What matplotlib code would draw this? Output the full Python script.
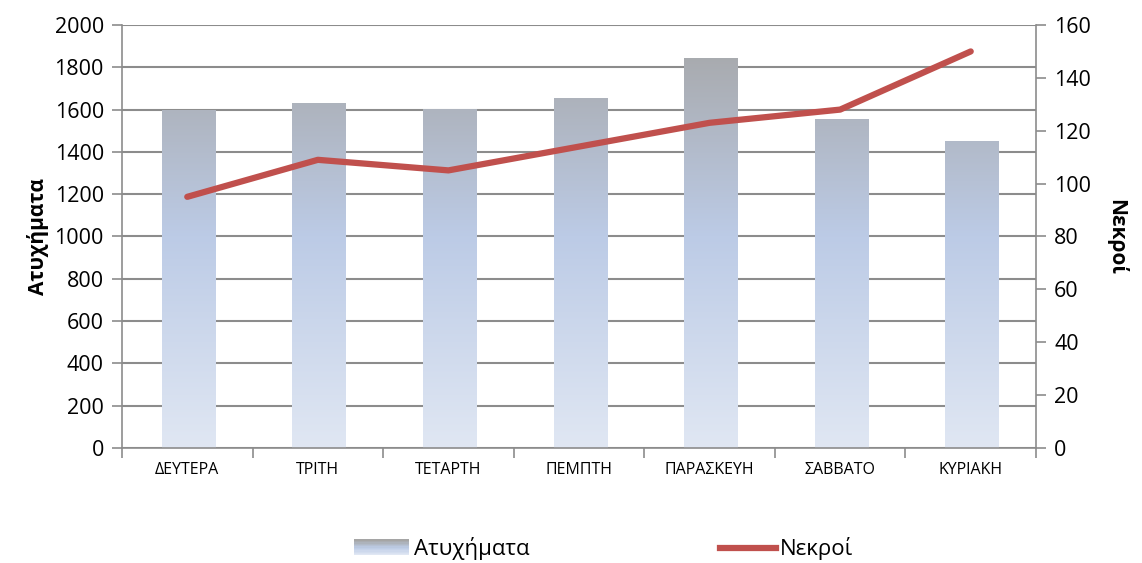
import matplotlib.pyplot as plt
import numpy as np
from matplotlib.colors import LinearSegmentedColormap
from matplotlib.patches import Patch, Rectangle
from matplotlib.lines import Line2D
from matplotlib.legend_handler import HandlerBase

plt.rcParams['font.family'] = ['Open Sans', 'DejaVu Sans']

days = ['ΔΕΥΤΕΡΑ', 'ΤΡΙΤΗ', 'ΤΕΤΑΡΤΗ', 'ΠΕΜΠΤΗ', 'ΠΑΡΑΣΚΕΥΗ', 'ΣΑΒΒΑΤΟ', 'ΚΥΡΙΑΚΗ']
accidents = [1600, 1630, 1605, 1655, 1845, 1555, 1450]
deaths = [95, 109, 105, 114, 123, 128, 150]

grid_col = '#8c8c8c'
line_col = '#c0504d'
grad = LinearSegmentedColormap.from_list('g', ['#e0e7f3', '#bccbe6', '#a5a5a5'])


class GradHandler(HandlerBase):
    def create_artists(self, legend, orig, xd, yd, w, h, fontsize, trans):
        n = 12
        out = []
        for i in range(n):
            r = Rectangle((xd, yd + h * i / n), w, h / n + 0.3, facecolor=grad(i / (n - 1)),
                          edgecolor='none', transform=trans)
            out.append(r)
        return out


fig = plt.figure(figsize=(11.42, 5.63), dpi=100, facecolor='w')
ax = fig.add_axes([0.1068, 0.2043, 0.8004, 0.7513])
x = np.arange(len(days))

bars = ax.bar(x + 0.01, accidents, width=0.41, color='none', zorder=2)
g = np.linspace(0, 1, 256).reshape(-1, 1)
for b in bars:
    im = ax.imshow(g, cmap=grad, origin='lower', aspect='auto', zorder=2,
                   extent=[b.get_x(), b.get_x() + b.get_width(), 0, 2000])
    im.set_clip_path(b)

ax.set_xlim(-0.5, len(days) - 0.5)
ax.set_ylim(0, 2000)
ax.set_yticks(np.arange(0, 2001, 200))
ax.yaxis.grid(True, color=grid_col, linewidth=1.5, zorder=0)
ax.set_axisbelow(True)
ax.set_xticks(x)
ax.set_xticklabels(days, fontsize=11.5)
ax.set_xticks(np.arange(-0.5, len(days)), minor=True)
ax.tick_params(axis='x', which='major', length=0, pad=10)
ax.tick_params(axis='x', which='minor', length=7, color=grid_col, width=1.2)
ax.tick_params(axis='y', labelsize=15.5, length=7, color=grid_col, width=1.2, pad=6)
ax.spines['top'].set_visible(False)
for s in ['left', 'bottom', 'right']:
    ax.spines[s].set_color(grid_col)
    ax.spines[s].set_linewidth(1.2)
ax.set_ylabel('Ατυχήματα', fontsize=15, fontweight='bold', labelpad=4)

ax2 = ax.twinx()
ax2.plot(x, deaths, color=line_col, linewidth=4.5, solid_capstyle='round', zorder=3)
ax2.set_ylim(0, 160)
ax2.set_yticks(np.arange(0, 161, 20))
ax2.tick_params(axis='y', labelsize=15.5, length=7, color=grid_col, width=1.2, pad=6)
for s in ax2.spines.values():
    s.set_visible(False)
ax2.set_ylabel('Νεκροί', fontsize=15, fontweight='bold', rotation=270, labelpad=26)

handles = [Patch(facecolor='#b5bfcf', edgecolor='none'),
           Line2D([0], [0], color=line_col, linewidth=4.5)]
fig.legend(handles, ['Ατυχήματα', 'Νεκροί'], loc='center', bbox_to_anchor=(0.5285, 0.025),
           ncol=2, frameon=False, fontsize=16, columnspacing=8.6, handlelength=2.5,
           handletextpad=0.2, handler_map={Patch: GradHandler()})

fig.savefig('out.png', dpi=100)
